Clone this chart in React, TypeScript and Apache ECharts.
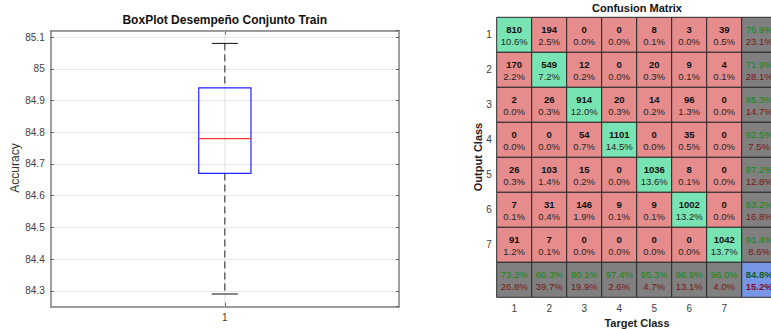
import React, { useEffect, useRef } from "react";
import * as echarts from "echarts";

// Box plot: one training run summary
const boxCategories = ["1"];
// lower whisker, first quartile, median, third quartile, upper whisker
const boxStats = [84.29, 84.67, 84.78, 84.94, 85.08];
const accuracyMin = 84.25;
const accuracyMax = 85.12;

// Confusion matrix: rows are output classes, columns are target classes
const classLabels = ["1", "2", "3", "4", "5", "6", "7"];
const confusionCounts = [
  [810, 194, 0, 0, 8, 3, 39],
  [170, 549, 12, 0, 20, 9, 4],
  [2, 26, 914, 20, 14, 96, 0],
  [0, 0, 54, 1101, 0, 35, 0],
  [26, 103, 15, 0, 1036, 8, 0],
  [7, 31, 146, 9, 9, 1002, 0],
  [91, 7, 0, 0, 0, 0, 1042],
];

const FONT = '"Liberation Sans", Arial, Helvetica, sans-serif';
const AXIS_TEXT = "#404040";
const FRAME = "#7f7f7f";

const COLORS = {
  hit: "#78e4b4",
  miss: "#e68c8c",
  summary: "#808080",
  overall: "#7896e6",
  border: "#2a2a2a",
  good: "#138a13",
  bad: "#7a1616",
};

type Cell = {
  row: number;
  col: number;
  kind: "hit" | "miss" | "summary" | "overall";
  top: string;
  bottom: string;
};

const pct = (v: number) => (v * 100).toFixed(1) + "%";

function buildCells(): Cell[] {
  const n = confusionCounts.length;
  const total = confusionCounts.reduce((s, r) => s + r.reduce((a, b) => a + b, 0), 0);
  let correct = 0;
  const cells: Cell[] = [];
  for (let r = 0; r < n; r++) {
    correct += confusionCounts[r][r];
    for (let c = 0; c < n; c++) {
      const v = confusionCounts[r][c];
      cells.push({ row: r, col: c, kind: r === c ? "hit" : "miss", top: String(v), bottom: pct(v / total) });
    }
    const rowSum = confusionCounts[r].reduce((a, b) => a + b, 0);
    const d = confusionCounts[r][r];
    cells.push({ row: r, col: n, kind: "summary", top: pct(d / rowSum), bottom: pct((rowSum - d) / rowSum) });
  }
  for (let c = 0; c < n; c++) {
    let colSum = 0;
    for (let r = 0; r < n; r++) colSum += confusionCounts[r][c];
    const d = confusionCounts[c][c];
    cells.push({ row: n, col: c, kind: "summary", top: pct(d / colSum), bottom: pct((colSum - d) / colSum) });
  }
  cells.push({ row: n, col: n, kind: "overall", top: pct(correct / total), bottom: pct((total - correct) / total) });
  return cells;
}

export default function App() {
  const ref = useRef<HTMLDivElement>(null);

  useEffect(() => {
    document.body.style.margin = "0";
    if (!ref.current) return;
    const chart = echarts.init(ref.current, null, { renderer: "svg" });
    const cells = buildCells();
    const axisCats = [...classLabels, ""];

    const option: any = {
      animation: false,
      backgroundColor: "#ffffff",
      grid: [
        { left: 50.7, top: 30.7, width: 348.3, height: 276, show: false, containLabel: false, outerBoundsMode: "none" },
        { left: 496.7, top: 17.3, width: 280, height: 280, show: false, containLabel: false, outerBoundsMode: "none" },
      ],
      xAxis: [
        {
          gridIndex: 0,
          type: "category",
          data: boxCategories,
          position: "bottom",
          axisLine: { show: true, lineStyle: { color: FRAME, width: 1.5 } },
          axisTick: { show: true, inside: true, alignWithLabel: true, length: 4, lineStyle: { color: "#333" } },
          axisLabel: { color: AXIS_TEXT, fontSize: 10, fontFamily: FONT, margin: 6 },
          splitLine: { show: false },
        },
        {
          gridIndex: 0,
          type: "category",
          data: boxCategories,
          position: "top",
          axisLine: { show: true, lineStyle: { color: FRAME, width: 1.5 } },
          axisTick: { show: true, inside: true, alignWithLabel: true, length: 4, lineStyle: { color: "#333" } },
          axisLabel: { show: false },
          splitLine: { show: false },
        },
        {
          gridIndex: 1,
          type: "category",
          data: axisCats,
          position: "bottom",
          axisLine: { show: false },
          axisTick: { show: false },
          axisLabel: { color: AXIS_TEXT, fontSize: 10, fontFamily: FONT, margin: 6, interval: 0 },
          splitLine: { show: false },
        },
      ],
      yAxis: [
        {
          gridIndex: 0,
          type: "value",
          min: accuracyMin,
          max: accuracyMax,
          splitNumber: 8,
          minInterval: 0.1,
          maxInterval: 0.1,
          axisLine: { show: true, lineStyle: { color: FRAME, width: 1.5 } },
          axisTick: { show: true, inside: true, length: 3, lineStyle: { color: "#555" } },
          axisLabel: { color: AXIS_TEXT, fontSize: 10, fontFamily: FONT, margin: 6, showMinLabel: false, showMaxLabel: false },
          splitLine: { show: true, lineStyle: { color: "#e6e6e6", width: 1 } },
        },
        {
          gridIndex: 0,
          type: "value",
          position: "right",
          min: accuracyMin,
          max: accuracyMax,
          splitNumber: 8,
          minInterval: 0.1,
          maxInterval: 0.1,
          axisLine: { show: true, lineStyle: { color: FRAME, width: 1.5 } },
          axisTick: { show: true, inside: true, length: 3, lineStyle: { color: "#555" } },
          axisLabel: { show: false },
          splitLine: { show: false },
        },
        {
          gridIndex: 1,
          type: "category",
          data: axisCats,
          inverse: true,
          axisLine: { show: false },
          axisTick: { show: false },
          axisLabel: { color: AXIS_TEXT, fontSize: 10, fontFamily: FONT, margin: 5, interval: 0 },
          splitLine: { show: false },
        },
      ],
      series: [
        {
          type: "custom",
          xAxisIndex: 0,
          yAxisIndex: 0,
          encode: { x: 0, y: [1, 2, 3, 4, 5] },
          data: [[0, ...boxStats]],
          renderItem: (params: any, api: any) => {
            const xv = api.value(0);
            const cx = api.coord([xv, api.value(3)])[0];
            const y = (i: number) => api.coord([xv, api.value(i)])[1];
            const band = api.size([1, 0])[0];
            const hw = band * 0.075;
            const capHw = band * 0.0375;
            const cs = params.coordSys;
            const dashed = { stroke: "#222", lineWidth: 1, lineDash: [7, 4] };
            return {
              type: "group",
              children: [
                { type: "line", shape: { x1: cx, y1: cs.y, x2: cx, y2: cs.y + cs.height }, style: { stroke: "#e3e3e3", lineWidth: 1 } },
                { type: "line", shape: { x1: cx, y1: y(5), x2: cx, y2: y(4) }, style: dashed },
                { type: "line", shape: { x1: cx, y1: y(2), x2: cx, y2: y(1) }, style: dashed },
                { type: "line", shape: { x1: cx - capHw, y1: y(5), x2: cx + capHw, y2: y(5) }, style: { stroke: "#111", lineWidth: 1 } },
                { type: "line", shape: { x1: cx - capHw, y1: y(1), x2: cx + capHw, y2: y(1) }, style: { stroke: "#111", lineWidth: 1 } },
                {
                  type: "rect",
                  shape: { x: cx - hw, y: y(4), width: hw * 2, height: y(2) - y(4) },
                  style: { fill: "none", stroke: "#2222ff", lineWidth: 1.2 },
                },
                { type: "line", shape: { x1: cx - hw, y1: y(3), x2: cx + hw, y2: y(3) }, style: { stroke: "#ff3333", lineWidth: 1.2 } },
              ],
            };
          },
        },
        {
          type: "custom",
          xAxisIndex: 2,
          yAxisIndex: 2,
          encode: { x: 0, y: 1 },
          data: cells.map((c) => [c.col, c.row]),
          renderItem: (params: any, api: any) => {
            const cell = cells[params.dataIndex];
            const p = api.coord([api.value(0), api.value(1)]);
            const s = api.size([1, 1]);
            const w = s[0];
            const h = s[1];
            const isCount = cell.kind === "hit" || cell.kind === "miss";
            const isOverall = cell.kind === "overall";
            const topStyle = isCount
              ? { fill: "#111", fontWeight: "bold" }
              : { fill: isOverall ? "#0d5e2a" : COLORS.good, fontWeight: isOverall ? "bold" : "normal" };
            const bottomStyle = isCount
              ? { fill: "#262626", fontWeight: "normal" }
              : { fill: isOverall ? "#7a1030" : COLORS.bad, fontWeight: isOverall ? "bold" : "normal" };
            return {
              type: "group",
              children: [
                {
                  type: "rect",
                  shape: { x: p[0] - w / 2, y: p[1] - h / 2, width: w, height: h },
                  style: { fill: (COLORS as any)[cell.kind], stroke: COLORS.border, lineWidth: 1 },
                },
                {
                  type: "text",
                  x: p[0],
                  y: p[1] - 5.5,
                  style: { text: cell.top, align: "center", verticalAlign: "middle", fontSize: 9.5, fontFamily: FONT, ...topStyle },
                },
                {
                  type: "text",
                  x: p[0],
                  y: p[1] + 7,
                  style: { text: cell.bottom, align: "center", verticalAlign: "middle", fontSize: 9.5, fontFamily: FONT, ...bottomStyle },
                },
              ],
            };
          },
        },
      ],
      graphic: [
        {
          type: "text",
          x: 224.8,
          y: 20,
          style: { text: "BoxPlot Desempeño Conjunto Train", align: "center", verticalAlign: "middle", fontSize: 12, fontWeight: "bold", fontFamily: FONT, fill: "#111" },
        },
        {
          type: "text",
          x: 15,
          y: 168,
          rotation: Math.PI / 2,
          style: { text: "Accuracy", align: "center", verticalAlign: "middle", fontSize: 12, fontFamily: FONT, fill: "#333" },
        },
        {
          type: "text",
          x: 637,
          y: 8,
          style: { text: "Confusion Matrix", align: "center", verticalAlign: "middle", fontSize: 11, fontWeight: "bold", fontFamily: FONT, fill: "#111" },
        },
        {
          type: "text",
          x: 478,
          y: 157,
          rotation: Math.PI / 2,
          style: { text: "Output Class", align: "center", verticalAlign: "middle", fontSize: 11, fontWeight: "bold", fontFamily: FONT, fill: "#222" },
        },
        {
          type: "text",
          x: 637,
          y: 322.5,
          style: { text: "Target Class", align: "center", verticalAlign: "middle", fontSize: 11, fontWeight: "bold", fontFamily: FONT, fill: "#222" },
        },
      ],
    };

    chart.setOption(option);
    return () => chart.dispose();
  }, []);

  return <div ref={ref} style={{ width: 771, height: 329 }} />;
}
